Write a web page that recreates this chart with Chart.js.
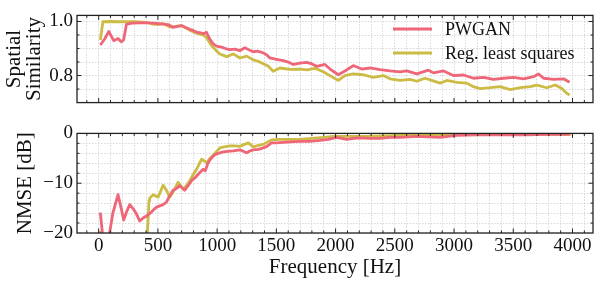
<!DOCTYPE html>
<html>
<head>
<meta charset="utf-8">
<script src="https://cdn.jsdelivr.net/npm/chart.js@4/dist/chart.umd.min.js"></script>
<style>
  body { margin: 0; background: #fff; }
  #wrap { position: relative; width: 598px; height: 283px; }
  canvas { position: absolute; left: 0; }
</style>
</head>
<body>
<div id="wrap">
  <canvas id="simChart" width="598" height="118" style="top:0px"></canvas>
  <canvas id="nmseChart" width="598" height="165" style="top:118px"></canvas>
</div>
<script>
// ---- data ----
const seriesNames = ["PWGAN", "Reg. least squares"];

// spatial similarity, PWGAN
const simFreqPW = [14, 50, 85, 127, 163, 190, 211, 234, 280, 350, 420, 488, 540, 590, 628, 665, 699, 735, 769, 800,
  826, 860, 888, 910, 938, 965, 994, 1037, 1070, 1107, 1150, 1190, 1234, 1270, 1302, 1345, 1389, 1420, 1445, 1500,
  1558, 1600, 1643, 1699, 1756, 1800, 1840, 1910, 1953, 2023, 2079, 2150, 2220, 2291, 2375, 2460, 2544, 2601, 2685, 2784,
  2826, 2911, 2995, 3080, 3164, 3249, 3333, 3418, 3502, 3587, 3671, 3714, 3756, 3840, 3925, 3975];
const simPW = [0.913, 0.935, 0.963, 0.929, 0.937, 0.925, 0.932, 0.989, 0.994, 0.995, 0.995, 0.993, 0.990, 0.988, 0.978, 0.982, 0.985, 0.978, 0.971, 0.966,
  0.961, 0.958, 0.955, 0.960, 0.935, 0.918, 0.909, 0.905, 0.900, 0.896, 0.898, 0.892, 0.903, 0.895, 0.888, 0.890, 0.884, 0.876, 0.865, 0.860,
  0.855, 0.850, 0.841, 0.846, 0.849, 0.843, 0.834, 0.841, 0.824, 0.803, 0.817, 0.837, 0.824, 0.828, 0.822, 0.817, 0.814, 0.817, 0.806, 0.820,
  0.810, 0.817, 0.800, 0.802, 0.790, 0.793, 0.786, 0.790, 0.793, 0.788, 0.796, 0.806, 0.790, 0.786, 0.788, 0.775];

// spatial similarity, regularized least squares
const simFreqLS = [14, 36, 100, 200, 300, 403, 460, 500, 544, 600, 650, 699, 740, 783, 820, 853, 880, 910, 952, 990,
  1023, 1079, 1136, 1192, 1249, 1305, 1350, 1389, 1430, 1473, 1530, 1614, 1699, 1756, 1826, 1896, 1967, 2023, 2079, 2150,
  2234, 2319, 2403, 2460, 2544, 2629, 2685, 2755, 2812, 2882, 2939, 3023, 3108, 3164, 3221, 3305, 3390, 3474, 3559, 3643,
  3700, 3784, 3854, 3911, 3953, 3975];
const simLS = [0.932, 0.999, 1.000, 0.999, 0.999, 0.997, 0.990, 0.988, 0.993, 0.980, 0.982, 0.985, 0.975, 0.965, 0.958, 0.953, 0.950, 0.940, 0.911, 0.893,
  0.880, 0.870, 0.880, 0.865, 0.872, 0.858, 0.852, 0.844, 0.835, 0.816, 0.828, 0.823, 0.824, 0.821, 0.827, 0.814, 0.796, 0.782, 0.800, 0.806,
  0.803, 0.793, 0.800, 0.788, 0.782, 0.786, 0.779, 0.790, 0.782, 0.772, 0.782, 0.775, 0.772, 0.759, 0.752, 0.755, 0.759, 0.748, 0.755, 0.759,
  0.765, 0.755, 0.765, 0.752, 0.734, 0.728];

// NMSE [dB], PWGAN
const nmseFreqPW = [14, 40, 85, 120, 163, 190, 211, 240, 262, 290, 320, 346, 375, 403, 445, 488, 544, 572, 600, 628,
  660, 685, 727, 755, 783, 810, 840, 882, 900, 924, 950, 980, 1010, 1051, 1090, 1136, 1192, 1220, 1249, 1280,
  1305, 1350, 1389, 1420, 1459, 1500, 1558, 1620, 1699, 1780, 1869, 1940, 2009, 2050, 2093, 2150, 2206, 2290, 2375, 2460,
  2544, 2620, 2685, 2780, 2882, 2950, 3023, 3200, 3400, 3600, 3800, 3975];
const nmsePW = [-15.9, -22, -21, -16, -12.3, -15, -17.4, -15.5, -14.3, -15.1, -16.2, -17.6, -17.0, -16.6, -15.8, -14.8, -14.3, -13.8, -12.5, -11.4,
  -11.0, -10.5, -11.4, -10.5, -9.5, -9.0, -8.2, -7.2, -7.5, -5.9, -5.0, -4.3, -4.0, -3.7, -3.6, -3.5, -3.3, -3.6, -3.9, -3.5,
  -3.3, -3.2, -2.9, -2.6, -1.9, -1.9, -1.8, -1.7, -1.6, -1.6, -1.4, -1.2, -0.8, -1.0, -1.2, -1.0, -0.9, -1.0, -1.0, -0.8,
  -0.8, -0.7, -0.6, -0.7, -0.8, -0.6, -0.4, -0.3, -0.3, -0.3, -0.2, -0.2];

// NMSE [dB], regularized least squares
const nmseFreqLS = [14, 30, 403, 425, 431, 460, 502, 544, 572, 600, 642, 670, 713, 740, 769, 800, 826, 868, 890, 910,
  940, 966, 1000, 1023, 1060, 1107, 1150, 1192, 1230, 1263, 1305, 1350, 1389, 1420, 1459, 1520, 1586, 1699, 1800, 1900,
  1980, 2100, 2262, 2400, 2544, 2700, 2850, 2995, 3200, 3500, 3800, 3990];
const nmseLS = [-19.6, -23, -24, -13.5, -13.0, -12.3, -12.8, -10.4, -11.4, -12.8, -11.2, -9.8, -11.2, -10.5, -9.5, -8.2, -7.2, -5.2, -5.5, -5.9,
  -5.0, -4.4, -3.5, -2.9, -2.7, -2.5, -2.5, -2.6, -2.2, -1.9, -2.7, -2.4, -2.2, -1.8, -1.3, -1.2, -1.2, -1.2, -1.0, -0.8,
  -0.6, -0.6, -0.6, -0.5, -0.4, -0.3, -0.3, -0.2, -0.2, -0.2, -0.2, -0.2];

// tick labels
const freqTickLabels = [0, 500, 1000, 1500, 2000, 2500, 3000, 3500, 4000];
const simTickLabels = [0.8, 1.0];
const nmseTickLabels = [0, -10, -20];

// ---- styling ----
const pwColor = "#EE6677";
const lsColor = "#CCBB44";
const serif = '"Liberation Serif", "Times New Roman", serif';
const ink = "#111";
const gridColor = "#cfcfcf";
const tickSize = 19;
const titleSize = 21;

function pairs(xs, ys) {
    return xs.map((x, i) => ({ x: x, y: ys[i] }));
}

function range(lo, hi, step) {
    const out = [];
    const n = Math.round((hi - lo) / step);
    for (let i = 0; i <= n; i++) out.push(Math.round((lo + i * step) * 1e6) / 1e6);
    return out;
}

function near(a, list) {
    return list.some(b => Math.abs(a - b) < 1e-6);
}

// frame + inward ticks, matplotlib style
const framePlugin = {
    id: "frame",
    afterDraw(chart, args, opts) {
        const { ctx, chartArea: a, scales } = chart;
        ctx.save();
        ctx.strokeStyle = "#222";
        ctx.lineWidth = 1;
        const line = (x1, y1, x2, y2) => { ctx.beginPath(); ctx.moveTo(x1, y1); ctx.lineTo(x2, y2); ctx.stroke(); };
        scales.x.ticks.forEach(t => {
            const x = scales.x.getPixelForValue(t.value);
            if (x < a.left + 0.5 || x > a.right - 0.5) return;
            const len = near(t.value, opts.xMajor) ? 4.5 : 2.5;
            line(x, a.bottom, x, a.bottom - len);
            line(x, a.top, x, a.top + len);
        });
        scales.y.ticks.forEach(t => {
            const y = scales.y.getPixelForValue(t.value);
            if (y < a.top + 0.5 || y > a.bottom - 0.5) return;
            const len = near(t.value, opts.yMajor) ? 4.5 : 2.5;
            line(a.left, y, a.left + len, y);
            line(a.right, y, a.right - len, y);
        });
        ctx.lineWidth = 1.3;
        ctx.strokeRect(a.left, a.top, a.right - a.left, a.bottom - a.top);
        ctx.restore();
    }
};

// legend drawn inside the top panel, no box
const innerLegend = {
    id: "innerLegend",
    afterDraw(chart, args, opts) {
        if (!opts.show) return;
        const ctx = chart.ctx;
        ctx.save();
        ctx.font = "18px " + serif;
        ctx.textBaseline = "middle";
        ctx.fillStyle = ink;
        chart.data.datasets.forEach((ds, i) => {
            const y = opts.y0 + i * opts.dy;
            ctx.strokeStyle = ds.borderColor;
            ctx.lineWidth = 2.8;
            ctx.beginPath();
            ctx.moveTo(opts.x0, y);
            ctx.lineTo(opts.x0 + 39, y);
            ctx.stroke();
            ctx.fillText(ds.label, opts.x0 + 52, y + 1);
        });
        ctx.restore();
    }
};

const xTicks = range(-100, 4100, 100);

function xScale(showLabels) {
    return {
        type: "linear",
        min: -183,
        max: 4173,
        afterBuildTicks: s => { s.ticks = xTicks.map(v => ({ value: v })); },
        afterFit: s => { s.height = showLabels ? 50 : 0; },
        grid: { color: gridColor, lineWidth: 0.8, drawTicks: false },
        border: { display: false, dash: [1.5, 1.5] },
        ticks: {
            display: showLabels,
            autoSkip: false,
            maxRotation: 0,
            padding: 2,
            color: ink,
            font: { family: serif, size: tickSize },
            callback: v => near(v, freqTickLabels) ? String(v) : ""
        },
        title: {
            display: showLabels,
            text: "Frequency [Hz]",
            color: ink,
            font: { family: serif, size: titleSize },
            padding: { top: 0, bottom: 3 }
        }
    };
}

function lineSet(label, data, color) {
    return {
        label: label,
        data: data,
        borderColor: color,
        backgroundColor: color,
        borderWidth: 2.8,
        pointRadius: 0,
        tension: 0,
        borderJoinStyle: "round",
        clip: 0
    };
}

// ---- top panel: spatial similarity ----
new Chart(document.getElementById("simChart"), {
    type: "line",
    data: {
        datasets: [
            lineSet(seriesNames[0], pairs(simFreqPW, simPW), pwColor),
            lineSet(seriesNames[1], pairs(simFreqLS, simLS), lsColor)
        ]
    },
    options: {
        responsive: false,
        animation: false,
        layout: { padding: { top: 4, bottom: 10, left: 0, right: 5 } },
        scales: {
            x: xScale(false),
            y: {
                min: 0.7,
                max: 1.0225,
                afterBuildTicks: s => { s.ticks = range(0.7, 1.0, 0.05).map(v => ({ value: v })); },
                afterFit: s => { s.width = 77; },
                grid: { color: gridColor, lineWidth: 0.8, drawTicks: false },
                border: { display: false, dash: [1.5, 1.5] },
                ticks: {
                    autoSkip: false,
                    padding: 4,
                    color: ink,
                    font: { family: serif, size: tickSize },
                    callback: v => near(v, simTickLabels) ? v.toFixed(1) : ""
                },
                title: {
                    display: true,
                    text: ["Spatial", "Similarity"],
                    color: ink,
                    font: { family: serif, size: titleSize, lineHeight: 0.95 },
                    padding: { top: 5, bottom: 0 }
                }
            }
        },
        plugins: {
            legend: { display: false },
            tooltip: { enabled: false },
            frame: { xMajor: freqTickLabels, yMajor: simTickLabels },
            innerLegend: { show: true, x0: 393, y0: 29, dy: 24 }
        }
    },
    plugins: [framePlugin, innerLegend]
});

// ---- bottom panel: NMSE ----
new Chart(document.getElementById("nmseChart"), {
    type: "line",
    data: {
        datasets: [
            lineSet(seriesNames[0], pairs(nmseFreqPW, nmsePW), pwColor),
            lineSet(seriesNames[1], pairs(nmseFreqLS, nmseLS), lsColor)
        ]
    },
    options: {
        responsive: false,
        animation: false,
        layout: { padding: { top: 11, bottom: 0, left: 0, right: 5 } },
        scales: {
            x: xScale(true),
            y: {
                min: -20,
                max: 0,
                afterBuildTicks: s => { s.ticks = range(-20, 0, 2).map(v => ({ value: v })); },
                afterFit: s => { s.width = 77; },
                grid: { color: gridColor, lineWidth: 0.8, drawTicks: false },
                border: { display: false, dash: [1.5, 1.5] },
                ticks: {
                    autoSkip: false,
                    padding: 4,
                    color: ink,
                    font: { family: serif, size: tickSize },
                    callback: v => near(v, nmseTickLabels) ? (v < 0 ? "\u2212" + Math.abs(v) : String(v)) : ""
                },
                title: {
                    display: true,
                    text: "NMSE [dB]",
                    color: ink,
                    font: { family: serif, size: titleSize, lineHeight: 1.0 },
                    padding: { top: 15, bottom: 0 }
                }
            }
        },
        plugins: {
            legend: { display: false },
            tooltip: { enabled: false },
            frame: { xMajor: freqTickLabels, yMajor: nmseTickLabels },
            innerLegend: { show: false }
        }
    },
    plugins: [framePlugin, innerLegend]
});
</script>
</body>
</html>
